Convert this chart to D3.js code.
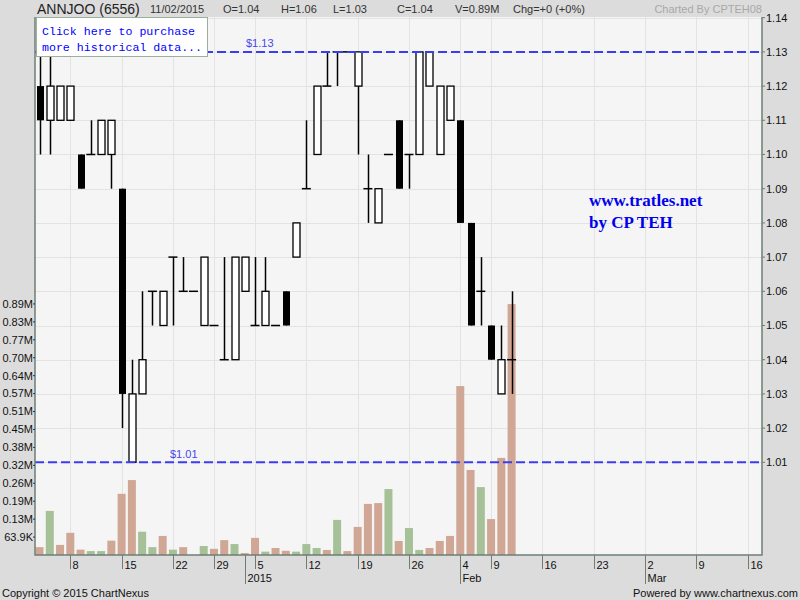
<!DOCTYPE html>
<html>
<head>
<meta charset="utf-8">
<style>
  body { margin: 0; background: #dcdcdc; }
  svg { display: block; font-family: "Liberation Sans", Arial, sans-serif; }
</style>
</head>
<body>
<svg width="800" height="600"></svg>
<script src="https://d3js.org/d3.v7.min.js"></script>
<script>
// daily prices, 3 Dec 2014 .. 11 Feb 2015 (trading day index 0..46)
var opens  = [1.12,1.11,1.11,1.11,1.10,1.10,1.10,1.10,1.09,1.01,1.03,1.06,1.05,1.07,1.06,1.06,1.05,1.05,1.04,1.04,1.06,1.05,1.05,1.05,1.06,1.07,1.09,1.10,1.12,1.13,1.13,1.12,1.09,1.08,1.10,1.11,1.10,1.10,1.12,1.10,1.11,1.11,1.08,1.06,1.05,1.03,1.04];
var highs  = [1.13,1.13,1.12,1.12,1.10,1.11,1.11,1.11,1.09,1.04,1.06,1.06,1.06,1.07,1.07,1.06,1.07,1.05,1.07,1.07,1.07,1.07,1.07,1.05,1.06,1.08,1.11,1.12,1.13,1.13,1.13,1.13,1.10,1.09,1.10,1.11,1.10,1.13,1.13,1.12,1.12,1.11,1.08,1.07,1.05,1.05,1.06];
var lows   = [1.10,1.10,1.11,1.11,1.09,1.10,1.10,1.09,1.02,1.01,1.03,1.05,1.05,1.05,1.06,1.06,1.05,1.05,1.04,1.04,1.06,1.05,1.05,1.05,1.05,1.07,1.09,1.10,1.12,1.12,1.13,1.10,1.08,1.08,1.10,1.09,1.09,1.10,1.12,1.10,1.11,1.08,1.05,1.05,1.04,1.03,1.03];
var closes = [1.11,1.12,1.12,1.12,1.09,1.10,1.11,1.11,1.03,1.03,1.04,1.06,1.06,1.07,1.06,1.06,1.07,1.05,1.04,1.07,1.07,1.05,1.06,1.05,1.05,1.08,1.09,1.12,1.12,1.13,1.13,1.13,1.09,1.09,1.10,1.09,1.10,1.13,1.13,1.12,1.12,1.08,1.05,1.06,1.04,1.04,1.04];
// volume in millions of shares
var volumes = [0.028,0.157,0.036,0.079,0.019,0.014,0.014,0.051,0.218,0.267,0.083,0.028,0.068,0.019,0.028,0,0.032,0.022,0.053,0.039,0.007,0.061,0.012,0.025,0.015,0.012,0.039,0.025,0.018,0.125,0.014,0.100,0.182,0.185,0.235,0.050,0.096,0.018,0.025,0.050,0.068,0.602,0.303,0.242,0.128,0.346,0.894];

var priceTicks = [1.01,1.02,1.03,1.04,1.05,1.06,1.07,1.08,1.09,1.10,1.11,1.12,1.13,1.14];
var volTicks = [0.0639,0.1278,0.1917,0.2556,0.3195,0.3834,0.4473,0.5112,0.5751,0.639,0.7029,0.7668,0.8307,0.8946];
var volTickLabels = ["63.9K","0.13M","0.19M","0.26M","0.32M","0.38M","0.45M","0.51M","0.57M","0.64M","0.70M","0.77M","0.83M","0.89M"];
var weekTickIdx = [3,8,13,17,21,26,31,36,41,44,49,54,59,64,69];
var weekTickLabels = ["8","15","22","29","5","12","19","26","4","9","16","23","2","9","16"];
var monthTickIdx = [20,41,59];
var monthTickLabels = ["2015","Feb","Mar"];
var refLines = [1.13, 1.01];

var svg = d3.select("svg");
var L = 35, R = 762, T = 17, B = 555;

var x = d3.scaleLinear().domain([-0.44, 70.4]).range([L, R]);
var y = d3.scaleLinear().domain([0.9829, 1.1402]).range([B, T]);
var yv = d3.scaleLinear().domain([0, 1.917]).range([B, T]);

var days = d3.range(closes.length).map(function(i) {
    return {i: i, o: opens[i], h: highs[i], l: lows[i], c: closes[i], v: volumes[i]};
});

// plot background
svg.append("rect").attr("x", L).attr("y", T).attr("width", R - L).attr("height", B - T).attr("fill", "#f5f5f5");

// grid
svg.append("g").selectAll("line").data(priceTicks).enter().append("line")
    .attr("x1", L).attr("x2", R)
    .attr("y1", function(d) { return Math.round(y(d)) + 0.5; })
    .attr("y2", function(d) { return Math.round(y(d)) + 0.5; })
    .attr("stroke", "#e3e3e3");
svg.append("g").selectAll("line").data(weekTickIdx).enter().append("line")
    .attr("x1", function(d) { return Math.round(x(d)) + 0.5; })
    .attr("x2", function(d) { return Math.round(x(d)) + 0.5; })
    .attr("y1", T).attr("y2", B)
    .attr("stroke", "#e3e3e3");

// volume bars
svg.append("g").selectAll("rect").data(days.filter(function(d) { return d.v > 0; })).enter().append("rect")
    .attr("x", function(d) { return x(d.i) - 4; })
    .attr("width", 8)
    .attr("y", function(d) { return yv(d.v); })
    .attr("height", function(d) { return B - yv(d.v); })
    .attr("fill", function(d) { return d.i > 0 && d.c > closes[d.i - 1] ? "#a6c097" : "#d0a795"; });

// candles
var candle = svg.append("g").selectAll("g").data(days).enter().append("g");
candle.filter(function(d) { return d.h > d.l; }).append("line")
    .attr("x1", function(d) { return Math.round(x(d.i)) + 0.5; })
    .attr("x2", function(d) { return Math.round(x(d.i)) + 0.5; })
    .attr("y1", function(d) { return y(d.h); })
    .attr("y2", function(d) { return y(d.l); })
    .attr("stroke", "#000").attr("stroke-width", 1.5);
candle.filter(function(d) { return d.o !== d.c; }).append("rect")
    .attr("x", function(d) { return Math.round(x(d.i)) - 3; })
    .attr("width", 7)
    .attr("y", function(d) { return y(Math.max(d.o, d.c)); })
    .attr("height", function(d) { return Math.abs(y(d.o) - y(d.c)); })
    .attr("fill", function(d) { return d.c > d.o ? "#fff" : "#000"; })
    .attr("stroke", "#000").attr("stroke-width", function(d) { return d.c > d.o ? 1.3 : 0; });
candle.filter(function(d) { return d.o === d.c; }).append("line")
    .attr("x1", function(d) { return x(d.i) - 4.5; })
    .attr("x2", function(d) { return x(d.i) + 4.5; })
    .attr("y1", function(d) { return y(d.c); })
    .attr("y2", function(d) { return y(d.c); })
    .attr("stroke", "#000").attr("stroke-width", 1.5);

// reference lines
svg.append("g").selectAll("line").data(refLines).enter().append("line")
    .attr("x1", L).attr("x2", R)
    .attr("y1", function(d) { return y(d); })
    .attr("y2", function(d) { return y(d); })
    .attr("stroke", "#3c3cf2").attr("stroke-width", 2).attr("stroke-dasharray", "9,4");
svg.append("text").attr("x", 246).attr("y", y(1.13) - 5).attr("font-size", 11).attr("fill", "#4646f0").text("$1.13");
svg.append("text").attr("x", 170).attr("y", y(1.01) - 4).attr("font-size", 11).attr("fill", "#4646f0").text("$1.01");

// axis frame
svg.append("path").attr("d", "M" + L + "," + T + "V" + B + "H" + R + "V" + T)
    .attr("fill", "none").attr("stroke", "#6e7e75").attr("stroke-width", 1.5);

// right price axis
var ra = svg.append("g").selectAll("g").data(priceTicks).enter().append("g")
    .attr("transform", function(d) { return "translate(" + R + "," + y(d) + ")"; });
ra.append("line").attr("x1", 0).attr("x2", 3).attr("stroke", "#6e7e75");
ra.append("text").attr("x", 4).attr("dy", "0.35em").attr("font-size", 11).attr("fill", "#111").text(function(d) { return d.toFixed(2); });

// left volume axis
var la = svg.append("g").selectAll("g").data(volTicks).enter().append("g")
    .attr("transform", function(d) { return "translate(" + L + "," + yv(d) + ")"; });
la.append("line").attr("x1", -2).attr("x2", 0).attr("stroke", "#333");
la.append("text").attr("x", -2).attr("dy", "0.35em").attr("text-anchor", "end").attr("font-size", 11).attr("fill", "#111")
    .text(function(d, i) { return volTickLabels[i]; });

// bottom time axis
var wk = svg.append("g").selectAll("g").data(weekTickIdx).enter().append("g")
    .attr("transform", function(d) { return "translate(" + (Math.round(x(d)) + 0.5) + "," + B + ")"; });
wk.append("line").attr("y1", 0).attr("y2", 14).attr("stroke", "#6e7e75");
wk.append("text").attr("x", 2).attr("y", 14).attr("font-size", 11).attr("fill", "#111")
    .text(function(d, i) { return weekTickLabels[i]; });
var mo = svg.append("g").selectAll("g").data(monthTickIdx).enter().append("g")
    .attr("transform", function(d) { return "translate(" + (Math.round(x(d)) + 0.5) + "," + B + ")"; });
mo.append("line").attr("y1", 0).attr("y2", 29).attr("stroke", "#6e7e75");
mo.append("text").attr("x", 2).attr("y", 27).attr("font-size", 11).attr("fill", "#111")
    .text(function(d, i) { return monthTickLabels[i]; });

// header
svg.append("text").attr("x", 37).attr("y", 14).attr("font-size", 14).attr("fill", "#222").text("ANNJOO (6556)");
var hdr = [[150, "11/02/2015"], [223, "O=1.04"], [281, "H=1.06"], [333, "L=1.03"], [397, "C=1.04"], [455, "V=0.89M"], [513, "Chg=+0 (+0%)"]];
svg.append("g").selectAll("text").data(hdr).enter().append("text")
    .attr("x", function(d) { return d[0]; }).attr("y", 13).attr("font-size", 11).attr("fill", "#333")
    .text(function(d) { return d[1]; });
svg.append("text").attr("x", 762).attr("y", 13).attr("text-anchor", "end").attr("font-size", 11).attr("fill", "#a8a8a8").text("Charted By CPTEH08");

// purchase box
svg.append("rect").attr("x", 36.5).attr("y", 17.5).attr("width", 171).attr("height", 39)
    .attr("fill", "#fff").attr("stroke", "#9cae9c");
svg.append("text").attr("x", 42).attr("y", 35).attr("font-family", "'Liberation Mono', monospace").attr("font-size", 11.6).attr("fill", "#0000ff").text("Click here to purchase");
svg.append("text").attr("x", 42).attr("y", 51).attr("font-family", "'Liberation Mono', monospace").attr("font-size", 11.6).attr("fill", "#0000ff").text("more historical data...");

// watermark
svg.append("text").attr("x", 589).attr("y", 206).attr("font-family", "'Liberation Serif', serif").attr("font-weight", "bold").attr("font-size", 17).attr("fill", "#0000ee").text("www.tratles.net");
svg.append("text").attr("x", 589).attr("y", 228).attr("font-family", "'Liberation Serif', serif").attr("font-weight", "bold").attr("font-size", 17).attr("fill", "#0000ee").text("by CP TEH");

// footer
svg.append("text").attr("x", 2).attr("y", 597).attr("font-size", 11).attr("fill", "#111").text("Copyright \u00a9 2015 ChartNexus");
svg.append("text").attr("x", 798).attr("y", 597).attr("text-anchor", "end").attr("font-size", 11).attr("fill", "#111").text("Powered by www.chartnexus.com");
</script>
</body>
</html>
